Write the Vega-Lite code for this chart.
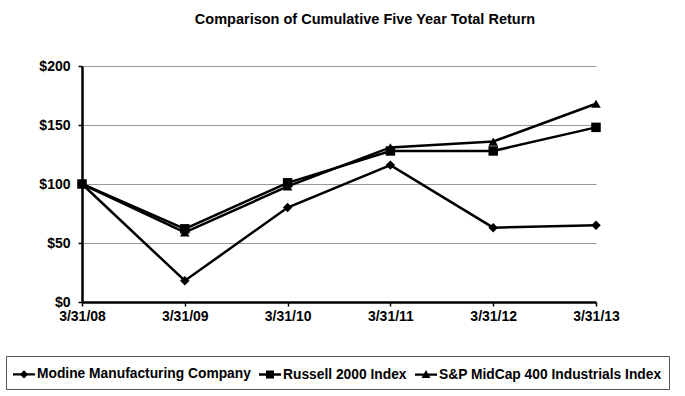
{
  "$schema": "https://vega.github.io/schema/vega-lite/v6.json",
  "width": 514,
  "height": 236,
  "autosize": "none",
  "padding": {"left": 82, "top": 66, "right": 89, "bottom": 94},
  "background": "white",
  "title": {"text": "Comparison of Cumulative Five Year Total Return", "font": "Liberation Sans", "fontSize": 14.5, "fontWeight": "bold", "color": "black", "anchor": "middle", "dx": 26, "offset": 32},
  "data": {"values": [
    {"date": "3/31/08", "series": "Modine Manufacturing Company", "value": 100},
    {"date": "3/31/09", "series": "Modine Manufacturing Company", "value": 18},
    {"date": "3/31/10", "series": "Modine Manufacturing Company", "value": 80},
    {"date": "3/31/11", "series": "Modine Manufacturing Company", "value": 116},
    {"date": "3/31/12", "series": "Modine Manufacturing Company", "value": 63},
    {"date": "3/31/13", "series": "Modine Manufacturing Company", "value": 65},
    {"date": "3/31/08", "series": "Russell 2000 Index", "value": 100},
    {"date": "3/31/09", "series": "Russell 2000 Index", "value": 62},
    {"date": "3/31/10", "series": "Russell 2000 Index", "value": 101},
    {"date": "3/31/11", "series": "Russell 2000 Index", "value": 128},
    {"date": "3/31/12", "series": "Russell 2000 Index", "value": 128},
    {"date": "3/31/13", "series": "Russell 2000 Index", "value": 148},
    {"date": "3/31/08", "series": "S&P MidCap 400 Industrials Index", "value": 100},
    {"date": "3/31/09", "series": "S&P MidCap 400 Industrials Index", "value": 59},
    {"date": "3/31/10", "series": "S&P MidCap 400 Industrials Index", "value": 98},
    {"date": "3/31/11", "series": "S&P MidCap 400 Industrials Index", "value": 131},
    {"date": "3/31/12", "series": "S&P MidCap 400 Industrials Index", "value": 136},
    {"date": "3/31/13", "series": "S&P MidCap 400 Industrials Index", "value": 168}
  ]},
  "encoding": {
    "x": {"field": "date", "type": "ordinal", "sort": null, "scale": {"type": "point", "padding": 0},
      "axis": {"title": null, "labelAngle": 0, "labelFont": "Liberation Sans", "labelFontSize": 14, "labelFontWeight": "bold", "labelColor": "black", "domainColor": "black", "domainWidth": 2.5, "ticks": true, "tickSize": 4, "tickColor": "black", "tickWidth": 1.5, "labelPadding": 3, "grid": false}}
  },
  "layer": [
    {
      "mark": {"type": "line", "color": "black", "strokeWidth": 2.5},
      "encoding": {
        "y": {"field": "value", "type": "quantitative", "scale": {"domain": [0, 200]},
          "axis": {"title": null, "values": [0, 50, 100, 150, 200], "format": "$,.0f", "labelFont": "Liberation Sans", "labelFontSize": 14, "labelFontWeight": "bold", "labelColor": "black", "domainColor": "black", "domainWidth": 2.5, "tickSize": 4, "tickColor": "black", "tickWidth": 1.5, "labelPadding": 8, "gridColor": "#999999", "gridWidth": 1}},
        "detail": {"field": "series"}
      }
    },
    {
      "mark": {"type": "point", "filled": true, "color": "black", "opacity": 1, "size": 90},
      "encoding": {
        "y": {"field": "value", "type": "quantitative"},
        "shape": {"field": "series", "type": "nominal", "scale": {"domain": ["Modine Manufacturing Company", "Russell 2000 Index", "S&P MidCap 400 Industrials Index"], "range": ["diamond", "square", "triangle-up"]}, "legend": null}
      }
    },
    {
      "mark": {"type": "point", "filled": true, "color": "black", "opacity": 1, "clip": true, "size": 400},
      "encoding": {
        "y": {"datum": -1000},
        "shape": {"field": "series", "type": "nominal",
          "scale": {"domain": ["Modine Manufacturing Company", "Russell 2000 Index", "S&P MidCap 400 Industrials Index"],
            "range": ["M-1.1,-0.12H1.1V0.12H-1.1ZM0,-0.42L0.42,0L0,0.42L-0.42,0Z", "M-1.1,-0.12H1.1V0.12H-1.1ZM-0.4,-0.4H0.4V0.4H-0.4Z", "M-1.1,-0.12H1.1V0.12H-1.1ZM0,-0.45L0.45,0.35H-0.45Z"]},
          "legend": {"title": null, "orient": "none", "direction": "horizontal", "legendX": -76, "legendY": 290,
            "strokeColor": "#555555", "padding": 7, "columnPadding": 5, "labelOffset": 2,
            "symbolSize": 400, "symbolFillColor": "black",
            "labelFont": "Liberation Sans", "labelFontSize": 13.8, "labelFontWeight": "bold", "labelColor": "black", "labelLimit": 400}
        }
      }
    }
  ],
  "resolve": {"scale": {"shape": "independent"}},
  "config": {"view": {"stroke": null}}
}
